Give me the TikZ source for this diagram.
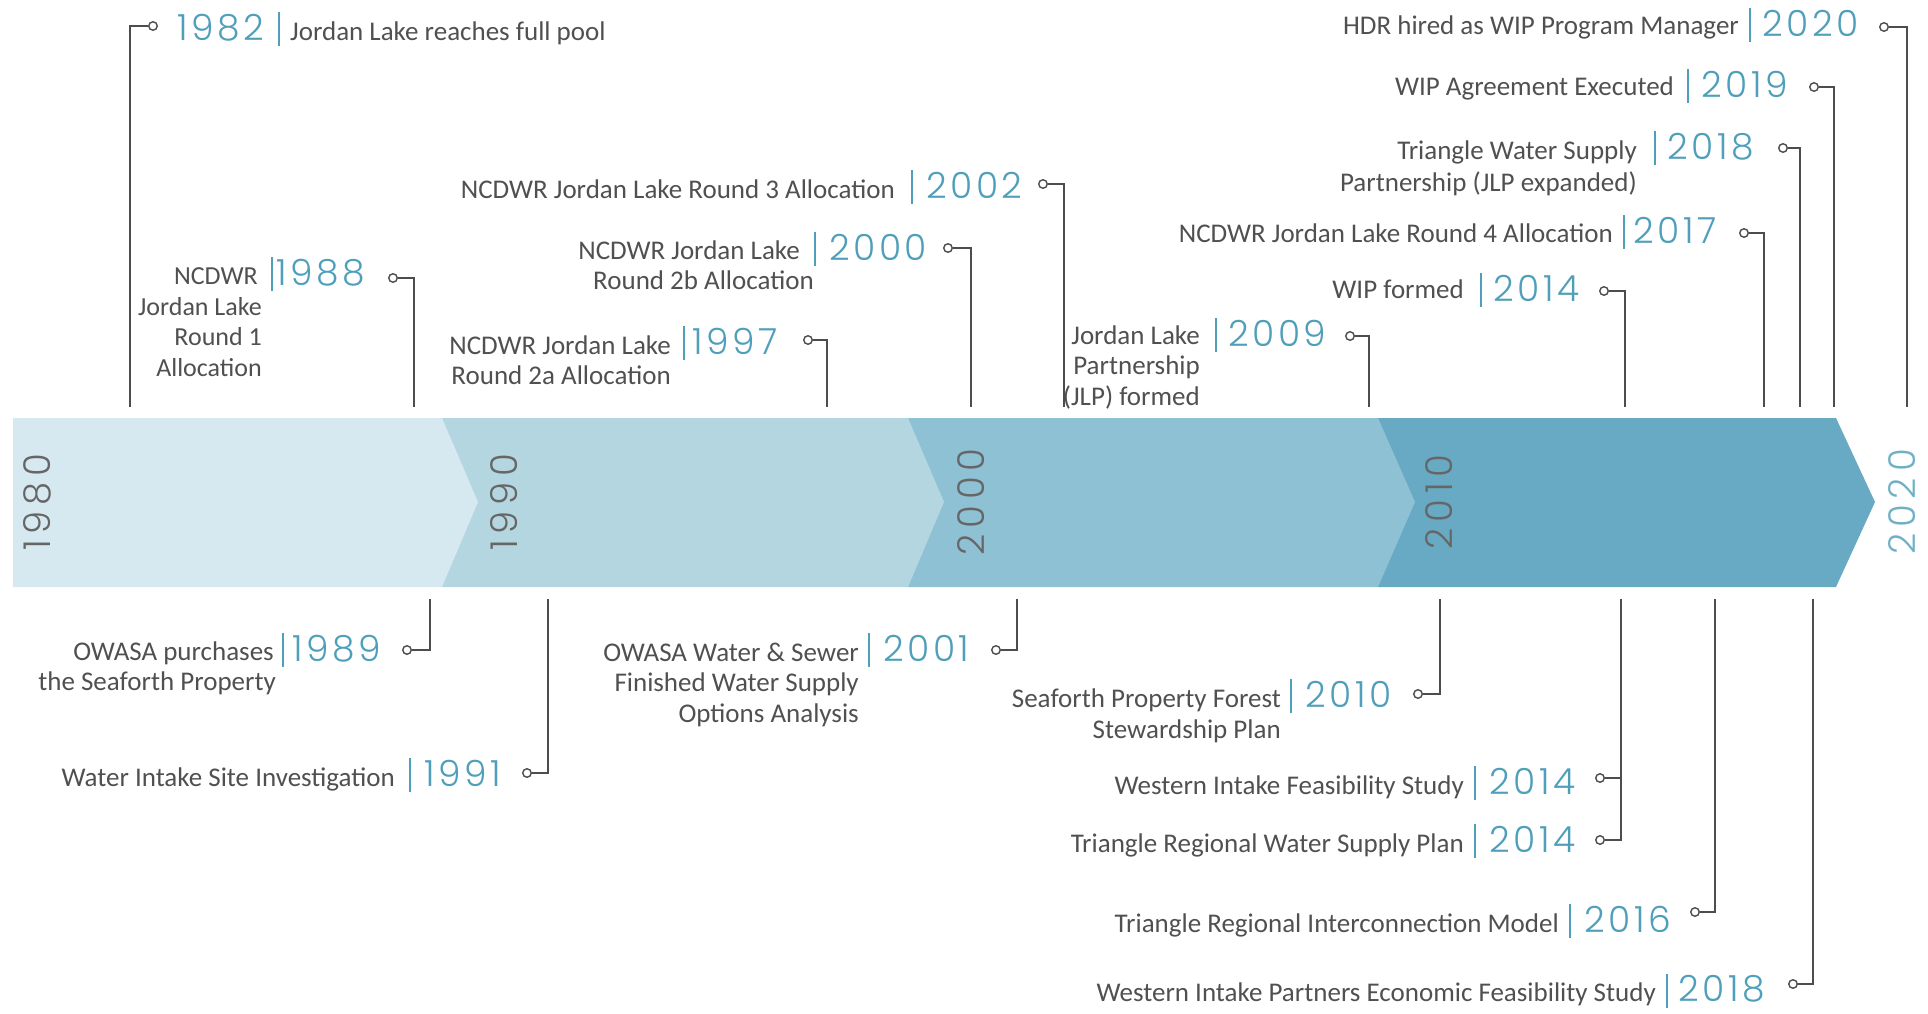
\documentclass[tikz,border=0pt]{standalone}
\usepackage{fontspec}
\setmainfont{Carlito}
\newfontfamily\yearfont[LetterSpace=10]{Poppins Light}
\newfontfamily\decfont[LetterSpace=16]{Poppins Light}
\definecolor{segA}{HTML}{D6E9F0}
\definecolor{segB}{HTML}{B3D6E0}
\definecolor{segC}{HTML}{8FC1D4}
\definecolor{segD}{HTML}{68AAC4}
\definecolor{ln}{HTML}{4D4D4D}
\definecolor{txt}{HTML}{505050}
\definecolor{teal1}{HTML}{4F9FBA}
\definecolor{teal2}{HTML}{6FB0C6}
\definecolor{decgray}{HTML}{666666}
\begin{document}
\begin{tikzpicture}[x=1pt,y=-1pt,
  desc/.style={inner sep=0, text=txt, font=\fontsize{27}{30.5}\selectfont},
  yr/.style={inner sep=0, text=teal1, font=\yearfont\fontsize{36}{36}\selectfont, anchor=base west},
  sepbar/.style={inner sep=0, fill=teal1, minimum width=2.2, minimum height=34},
  dot/.style={circle, draw=ln, fill=white, line width=1.4, minimum size=8.5, inner sep=0},
  lead/.style={draw=ln, line width=2.6},
  dec/.style={inner sep=0, rotate=90, font=\decfont\fontsize{37}{37}\selectfont, text=decgray},
]
\useasboundingbox (0,0) rectangle (1928,1013);
% band
\fill[segD] (1378,418) -- (1836,418) -- (1875,502) -- (1836,587) -- (1378,587) -- cycle;
\fill[segC] (908,418) -- (1378,418) -- (1415,502) -- (1378,587) -- (908,587) -- cycle;
\fill[segB] (442,418) -- (908,418) -- (944,502) -- (908,587) -- (442,587) -- cycle;
\fill[segA] (13,418) -- (442,418) -- (478,502) -- (442,587) -- (13,587) -- cycle;
\node[dec] (d1980) at (37,502) {1980};
\node[dec] (d1990) at (504,502) {1990};
\node[dec] (d2000) at (971,502) {2000};
\node[dec] (d2010) at (1439,502) {2010};
\node[dec, text=teal2] (d2020) at (1902,502) {2020};

% ---------- top events ----------
% 1982
\node[dot] (c1982) at (153,26) {};
\coordinate (v1982) at (130,407);
\draw[lead] (c1982) -| (v1982);
\node[yr] (y1982) at (177,40) {1982};
\node[sepbar] (s1982) at (279,29) {};
\node[desc, anchor=base west] (t1982) at (290,40) {Jordan Lake reaches full pool};
% 1988
\node[dot] (c1988) at (393,278) {};
\coordinate (v1988) at (414,407);
\draw[lead] (c1988) -| (v1988);
\node[yr] (y1988) at (276,285) {1988};
\node[sepbar] (s1988) at (272,274) {};
\node[desc, anchor=base east, align=right, font=\fontsize{26}{30.5}\selectfont] (t1988) at (262,376) {NCDWR\hspace*{4pt}\\Jordan Lake\\Round 1\\Allocation};
% 1997
\node[dot] (c1997) at (808,340) {};
\coordinate (v1997) at (827,407);
\draw[lead] (c1997) -| (v1997);
\node[yr] (y1997) at (692,354) {1997};
\node[sepbar] (s1997) at (684,343) {};
\node[desc, anchor=base east, align=right] (t1997) at (671,384.5) {NCDWR Jordan Lake\\Round 2a Allocation};
% 2000
\node[dot] (c2000) at (948,248) {};
\coordinate (v2000) at (971,407);
\draw[lead] (c2000) -| (v2000);
\node[yr] (y2000) at (829,260) {2000};
\node[sepbar] (s2000) at (815,249) {};
\node[desc, anchor=base east, align=right] (t2000) at (814,289.5) {NCDWR Jordan Lake\hspace*{14pt}\\Round 2b Allocation};
% 2002
\node[dot] (c2002) at (1043,184) {};
\coordinate (v2002) at (1064,407);
\draw[lead] (c2002) -| (v2002);
\node[yr] (y2002) at (926,198) {2002};
\node[sepbar] (s2002) at (912,187) {};
\node[desc, anchor=base east] (t2002) at (895,198) {NCDWR Jordan Lake Round 3 Allocation};
% 2009
\node[dot] (c2009) at (1350,336) {};
\coordinate (v2009) at (1369,407);
\draw[lead] (c2009) -| (v2009);
\node[yr] (y2009) at (1228,346) {2009};
\node[sepbar] (s2009) at (1216,335) {};
\node[desc, anchor=base east, align=right] (t2009) at (1200,405) {Jordan Lake\\Partnership\\(JLP) formed};
% 2014 WIP formed
\node[dot] (c2014) at (1604,291) {};
\coordinate (v2014) at (1625,407);
\draw[lead] (c2014) -| (v2014);
\node[yr] (y2014) at (1493,301) {2014};
\node[sepbar] (s2014) at (1481,290) {};
\node[desc, anchor=base east] (t2014) at (1464,298) {WIP formed};
% 2017
\node[dot] (c2017) at (1744,233) {};
\coordinate (v2017) at (1764,407);
\draw[lead] (c2017) -| (v2017);
\node[yr] (y2017) at (1633,243) {2017};
\node[sepbar] (s2017) at (1624,232) {};
\node[desc, anchor=base east] (t2017) at (1613,242) {NCDWR Jordan Lake Round 4 Allocation};
% 2018 top
\node[dot] (c2018) at (1783,148) {};
\coordinate (v2018) at (1800,407);
\draw[lead] (c2018) -| (v2018);
\node[yr] (y2018) at (1667,159) {2018};
\node[sepbar] (s2018) at (1655,148) {};
\node[desc, anchor=base east, align=right, font=\fontsize{27}{32}\selectfont] (t2018) at (1637,191) {Triangle Water Supply\\Partnership (JLP expanded)};
% 2019
\node[dot] (c2019) at (1814,87) {};
\coordinate (v2019) at (1834,407);
\draw[lead] (c2019) -| (v2019);
\node[yr] (y2019) at (1701,97) {2019};
\node[sepbar] (s2019) at (1688,86) {};
\node[desc, anchor=base east] (t2019) at (1674,95) {WIP Agreement Executed};
% 2020
\node[dot] (c2020) at (1884,27) {};
\coordinate (v2020) at (1907,407);
\draw[lead] (c2020) -| (v2020);
\node[yr] (y2020) at (1762,36) {2020};
\node[sepbar] (s2020) at (1750,25) {};
\node[desc, anchor=base east] (t2020) at (1739,34) {HDR hired as WIP Program Manager};

% ---------- bottom events ----------
% 1989
\coordinate (u1989) at (430,599);
\node[dot] (c1989) at (407,650) {};
\draw[lead] (u1989) |- (c1989);
\node[yr] (y1989) at (292,661) {1989};
\node[sepbar] (s1989) at (283,650) {};
\node[desc, anchor=base east, align=right] (t1989) at (276,690.5) {OWASA purchases\hspace*{2pt}\\the Seaforth Property};
% 1991
\coordinate (u1991) at (548,599);
\node[dot] (c1991) at (527,773) {};
\draw[lead] (u1991) |- (c1991);
\node[yr] (y1991) at (424,786) {1991};
\node[sepbar] (s1991) at (410,775) {};
\node[desc, anchor=base east] (t1991) at (395,786) {Water Intake Site Investigation};
% 2001
\coordinate (u2001) at (1017,599);
\node[dot] (c2001) at (996,650) {};
\draw[lead] (u2001) |- (c2001);
\node[yr] (y2001) at (883,661) {2001};
\node[sepbar] (s2001) at (869,650) {};
\node[desc, anchor=base east, align=right] (t2001) at (859,722) {OWASA Water \& Sewer\\Finished Water Supply\\Options Analysis};
% 2010
\coordinate (u2010) at (1440,599);
\node[dot] (c2010) at (1418,694) {};
\draw[lead] (u2010) |- (c2010);
\node[yr] (y2010) at (1305,707) {2010};
\node[sepbar] (s2010) at (1291,696) {};
\node[desc, anchor=base east, align=right] (t2010) at (1281,738) {Seaforth Property Forest\\Stewardship Plan};
% 2014 (two studies)
\coordinate (u2014) at (1621,599);
\node[dot] (c2014a) at (1600,778) {};
\node[dot] (c2014b) at (1600,840) {};
\draw[lead] (u2014) |- (c2014a);
\draw[lead] (u2014) |- (c2014b);
\node[yr] (y2014a) at (1489,794) {2014};
\node[sepbar] (s2014a) at (1475,783) {};
\node[desc, anchor=base east] (t2014a) at (1464,794) {Western Intake Feasibility Study};
\node[yr] (y2014b) at (1489,852) {2014};
\node[sepbar] (s2014b) at (1475,841) {};
\node[desc, anchor=base east] (t2014b) at (1464,852) {Triangle Regional Water Supply Plan};
% 2016
\coordinate (u2016) at (1715,599);
\node[dot] (c2016) at (1695,912) {};
\draw[lead] (u2016) |- (c2016);
\node[yr] (y2016) at (1584,932) {2016};
\node[sepbar] (s2016) at (1570,921) {};
\node[desc, anchor=base east] (t2016) at (1559,932) {Triangle Regional Interconnection Model};
% 2018 bottom
\coordinate (u2018) at (1813,599);
\node[dot] (c2018b) at (1793,984) {};
\draw[lead] (u2018) |- (c2018b);
\node[yr] (y2018b) at (1678,1001) {2018};
\node[sepbar] (s2018b) at (1667,991) {};
\node[desc, anchor=base east] (t2018b) at (1656,1001) {Western Intake Partners Economic Feasibility Study};
\end{tikzpicture}
\end{document}
